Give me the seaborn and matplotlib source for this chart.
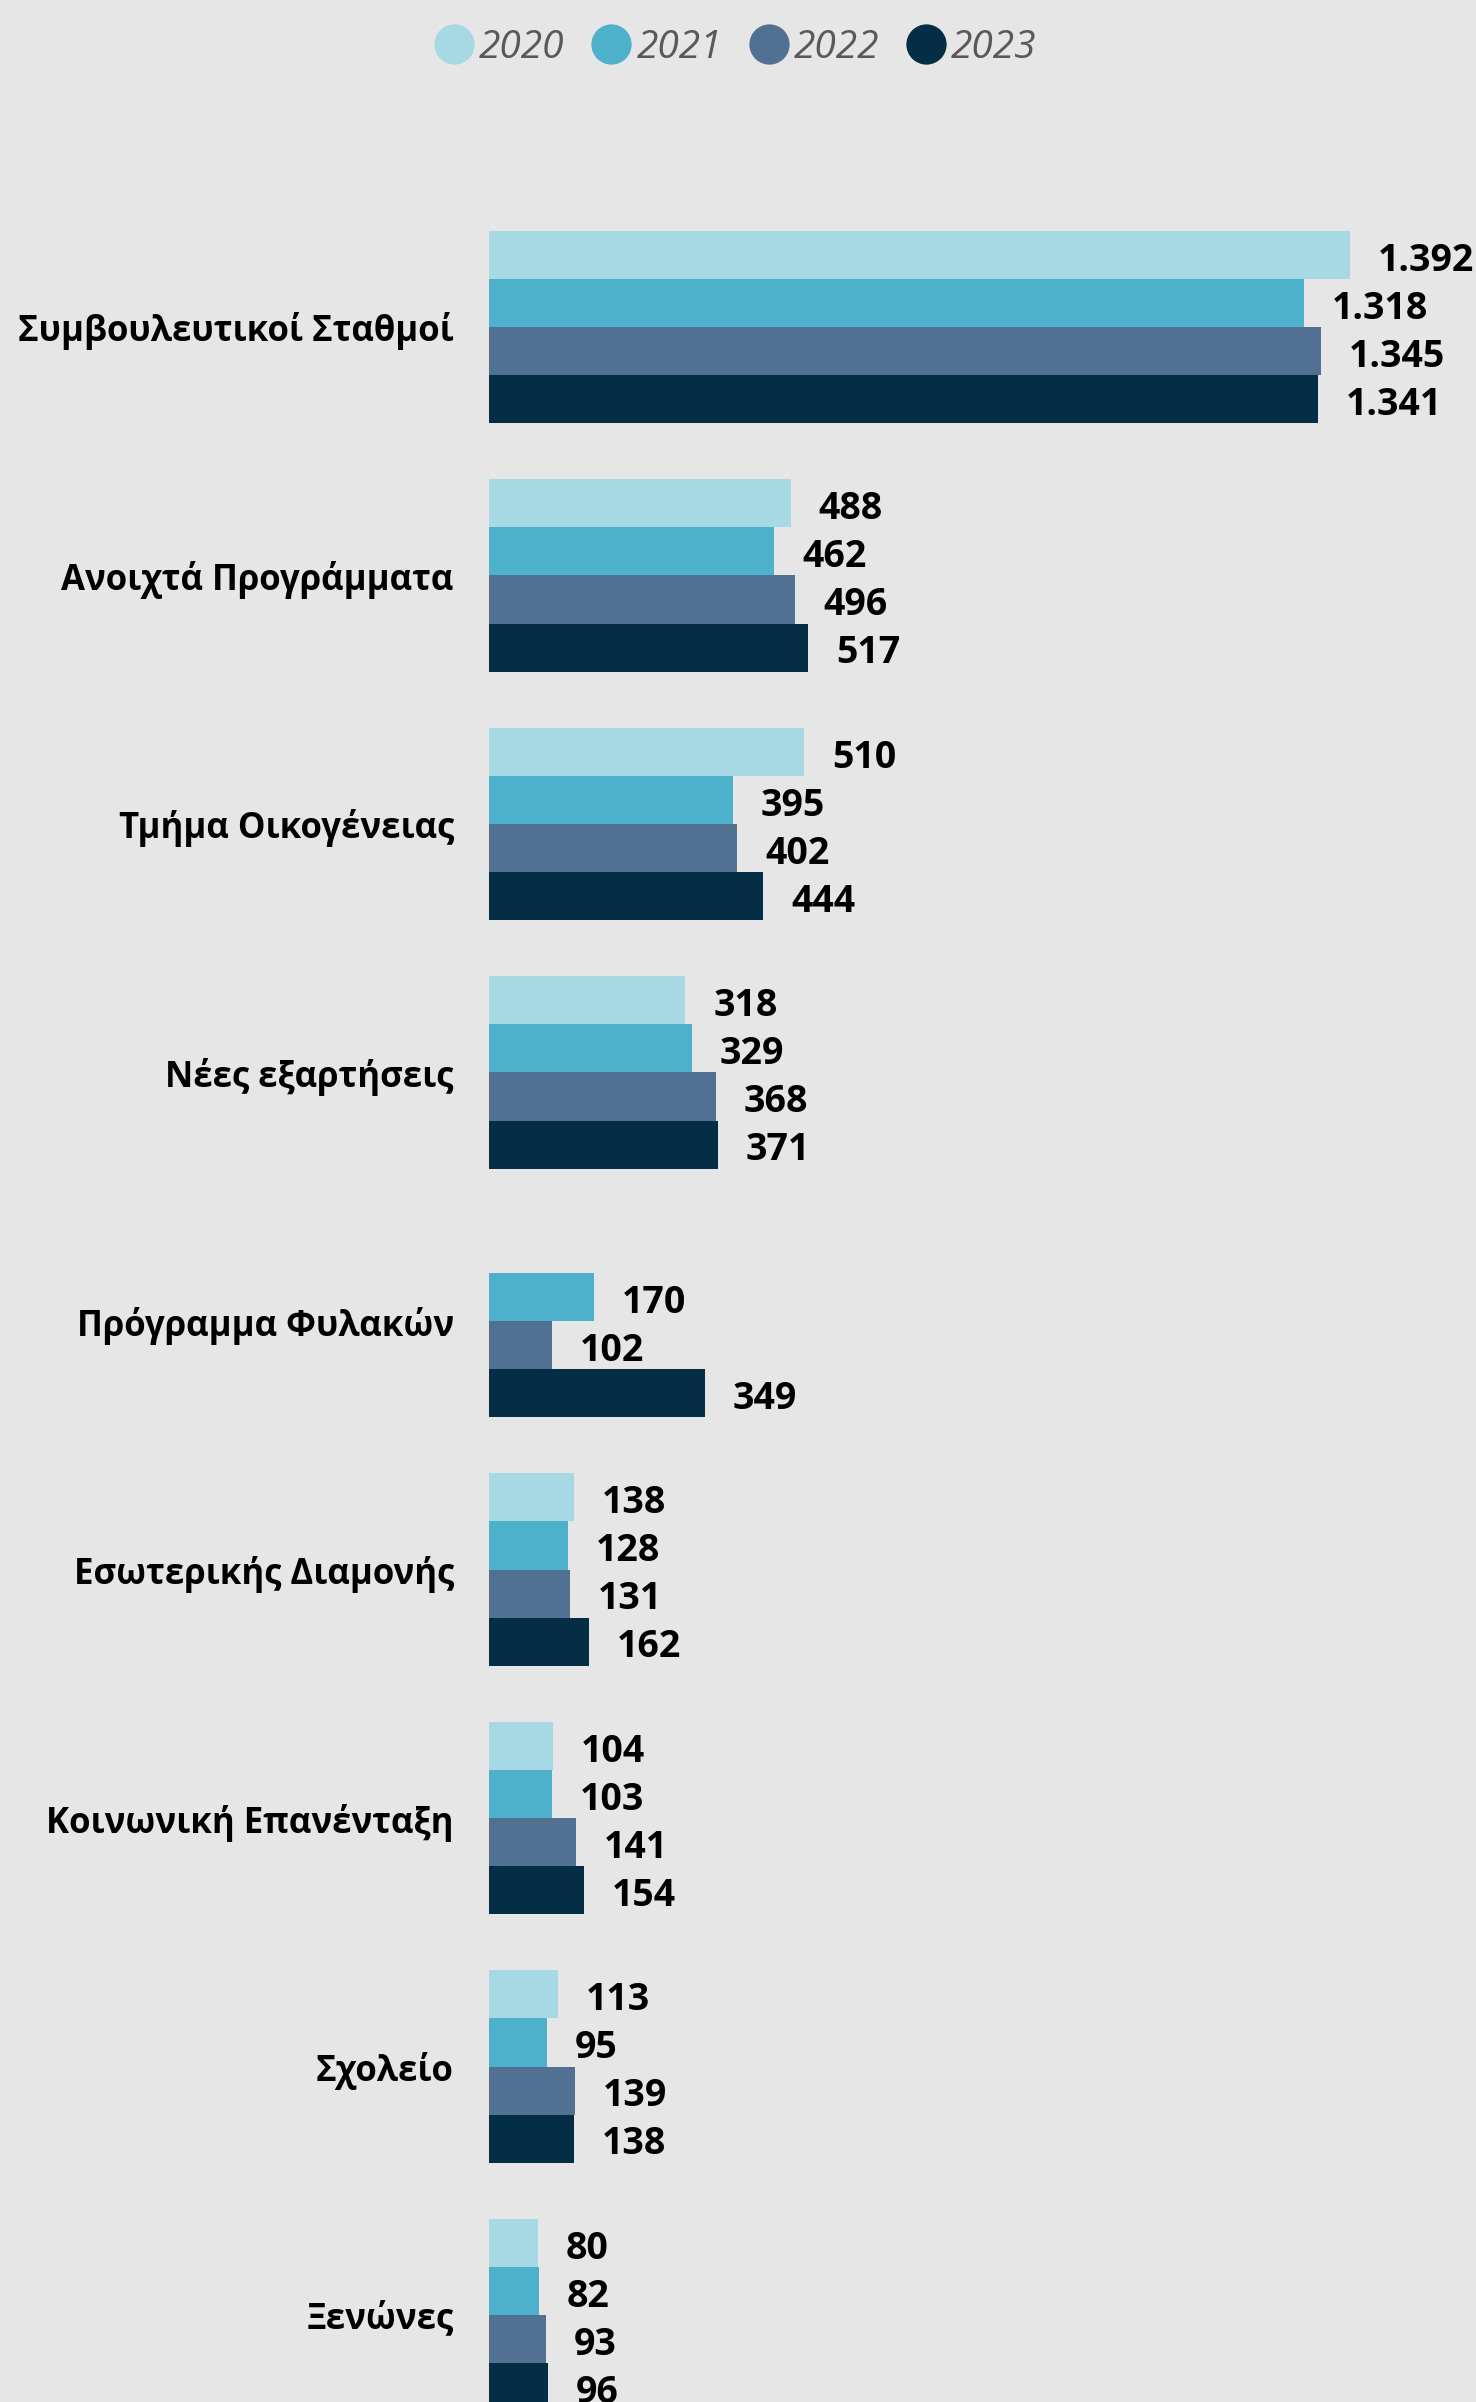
import numpy as np
import pandas as pd
import seaborn as sns
import matplotlib.pyplot as plt
from matplotlib.lines import Line2D

# data
categories = ['Συμβουλευτικοί Σταθμοί', 'Ανοιχτά Προγράμματα', 'Τμήμα Οικογένειας',
              'Νέες εξαρτήσεις', 'Πρόγραμμα Φυλακών', 'Εσωτερικής Διαμονής',
              'Κοινωνική Επανένταξη', 'Σχολείο', 'Ξενώνες']
years = ['2020', '2021', '2022', '2023']
v2020 = [1392, 488, 510, 318, np.nan, 138, 104, 113, 80]
v2021 = [1318, 462, 395, 329, 170, 128, 103, 95, 82]
v2022 = [1345, 496, 402, 368, 102, 131, 141, 139, 93]
v2023 = [1341, 517, 444, 371, 349, 162, 154, 138, 96]
colors = ['#A6D9E3', '#4DB1CB', '#527091', '#032E45']

df = pd.DataFrame({'Κατηγορία': categories * 4,
                   'Έτος': np.repeat(years, len(categories)),
                   'Τιμή': v2020 + v2021 + v2022 + v2023})

bg = '#E6E6E6'
sns.set_style('white')
plt.rcParams['font.family'] = ['Open Sans', 'DejaVu Sans']

fig = plt.figure(figsize=(14.76, 24.02), dpi=100, facecolor=bg)
ax = fig.add_axes([0.331, 0.0, 0.654, 0.9156])
ax.set_facecolor(bg)

sns.barplot(data=df, y='Κατηγορία', x='Τιμή', hue='Έτος', order=categories,
            hue_order=years, palette=colors, width=0.773, errorbar=None,
            orient='h', saturation=1, legend=False, linewidth=0, ax=ax)

# value labels, thousands with a dot
for cont in ax.containers:
    anns = ax.bar_label(cont, fmt=lambda v: f'{v:,.0f}'.replace(',', '.'),
                        padding=20, fontsize=27, fontweight='bold', color='black')
    for a in anns:
        a.xyann = (20, -4)

ax.set_xlim(0, 1560)
ax.set_ylim(8.35, -0.5)
ax.set_xlabel('')
ax.set_ylabel('')
ax.set_xticks([])
ax.tick_params(axis='y', length=0, pad=25)
for lab in ax.get_yticklabels():
    lab.set_fontsize(25)
    lab.set_fontweight('bold')
    lab.set_color('black')
sns.despine(ax=ax, left=True, bottom=True)

handles = [Line2D([], [], marker='o', linestyle='', markersize=29,
                  markerfacecolor=c, markeredgewidth=0) for c in colors]
fig.legend(handles, years, loc='center', bbox_to_anchor=(0.497, 0.98), ncol=4,
           frameon=False, handletextpad=0.05, columnspacing=0.6,
           prop={'size': 28, 'style': 'italic'}, labelcolor='#595959',
           handlelength=1.2)

fig.savefig('out.png', dpi=100, facecolor=bg)
